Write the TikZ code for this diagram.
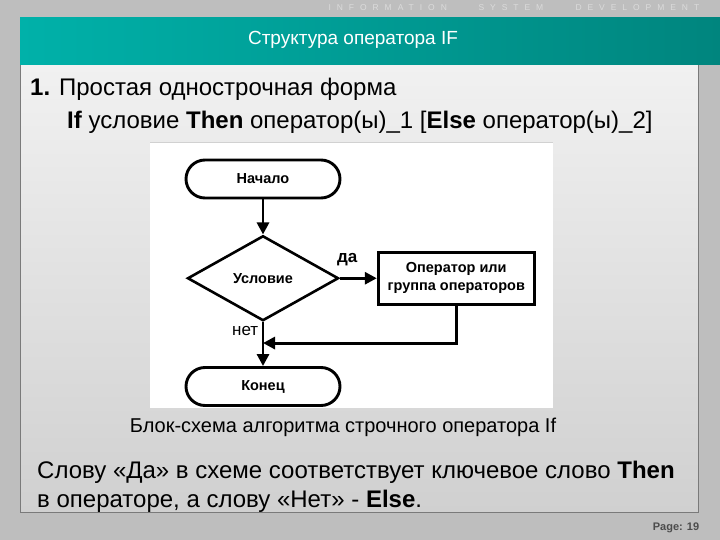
\documentclass[tikz,border=0pt]{standalone}
\usepackage{fontspec}
\setmainfont{Liberation Sans}
\usetikzlibrary{positioning, arrows.meta, shapes.geometric}

\definecolor{slidegray}{HTML}{BEBEBE}
\definecolor{tealleft}{HTML}{00B1A9}
\definecolor{tealright}{HTML}{00857E}
\definecolor{paneltop}{HTML}{F1F1F1}
\definecolor{panelbottom}{HTML}{D0D0D0}
\definecolor{paneledge}{HTML}{7A7A7A}

\begin{document}
\begin{tikzpicture}[
        x=1pt, y=-1pt,
        flow/.style={draw, line width=2.9pt, font=\bfseries\fontsize{14.5}{18}\selectfont},
        terminal/.style={flow, rectangle, rounded corners=19pt, minimum width=154pt, minimum height=38pt},
        decision/.style={flow, diamond, aspect=1.78, minimum width=151pt, minimum height=85pt, inner sep=0pt, line width=2.6pt},
        process/.style={flow, rectangle, minimum width=156pt, minimum height=52pt, align=center, inner sep=2pt},
        link/.style={line width=2.9pt, -{Triangle[length=12pt, width=12pt]}},
        brand/.style={anchor=base west, text=white!86!black, font=\fontsize{8.5}{9}\selectfont\addfontfeature{LetterSpace=70}},
        body/.style={anchor=base west, inner sep=0pt, font=\fontsize{24}{28}\selectfont}
    ]
    % slide background
    \fill[slidegray] (0,0) rectangle (720,540);
    \useasboundingbox (0,0) rectangle (720,540);
    \fill[top color=paneltop, bottom color=panelbottom] (20,65) rectangle (698,512);
    \draw[paneledge, line width=1pt] (20,65) -- (20,512) -- (698,512) -- (698,65);
    \fill[left color=tealleft, right color=tealright] (20,18) rectangle (720,65);

    \node (brandA) [brand] at (325,11) {INFORMATION};
    \node (brandB) [brand] at (475,11) {SYSTEM};
    \node (brandC) [brand] at (572,11) {DEVELOPMENT};
    \node (title) [text=white, font=\fontsize{19}{22}\selectfont] at (353,40) {Структура оператора IF};

    \node (formA) [body] at (30,96) {\textbf{1.} Простая однострочная форма};
    \node (formB) [body] at (67,129) {\textbf{If} условие \textbf{Then} оператор(ы)\_1 [\textbf{Else} оператор(ы)\_2]};

    % flowchart
    \fill[white] (150,143) rectangle (553,408);
    \draw[black!18, line width=1pt] (150,143) -- (553,143);
    \node (start) [terminal] at (263,179) {Начало};
    \node (cond) [decision, below=35pt of start] {Условие};
    \node (oper) [process, right=37pt of cond] {Оператор или\\группа операторов};
    \node (stop) [terminal, below=44pt of cond] {Конец};
    \coordinate[below=21pt of cond.south] (join);

    \draw[link] (start) -- (cond);
    \draw[link] (cond) -- (oper) node[pos=0.2, above=8pt, font=\bfseries\fontsize{17}{19}\selectfont] (yes) {да};
    \draw[link] (oper.south) |- (join);
    \draw[link] (cond.south) -- (stop) node[pos=0.2, left=0pt, font=\fontsize{17}{19}\selectfont] (no) {нет};

    \node (caption) [font=\fontsize{20}{23}\selectfont] at (343,427) {Блок-схема алгоритма строчного оператора If};
    \node (noteA) [body] at (37,478) {Слову «Да» в схеме соответствует ключевое слово \textbf{Then}};
    \node (noteB) [body] at (37,507) {в операторе, а слову «Нет» - \textbf{Else}.};
    \node (page) [text=black!70, font=\bfseries\fontsize{11}{13}\selectfont] at (676,528) {Page: 19};
\end{tikzpicture}
\end{document}
